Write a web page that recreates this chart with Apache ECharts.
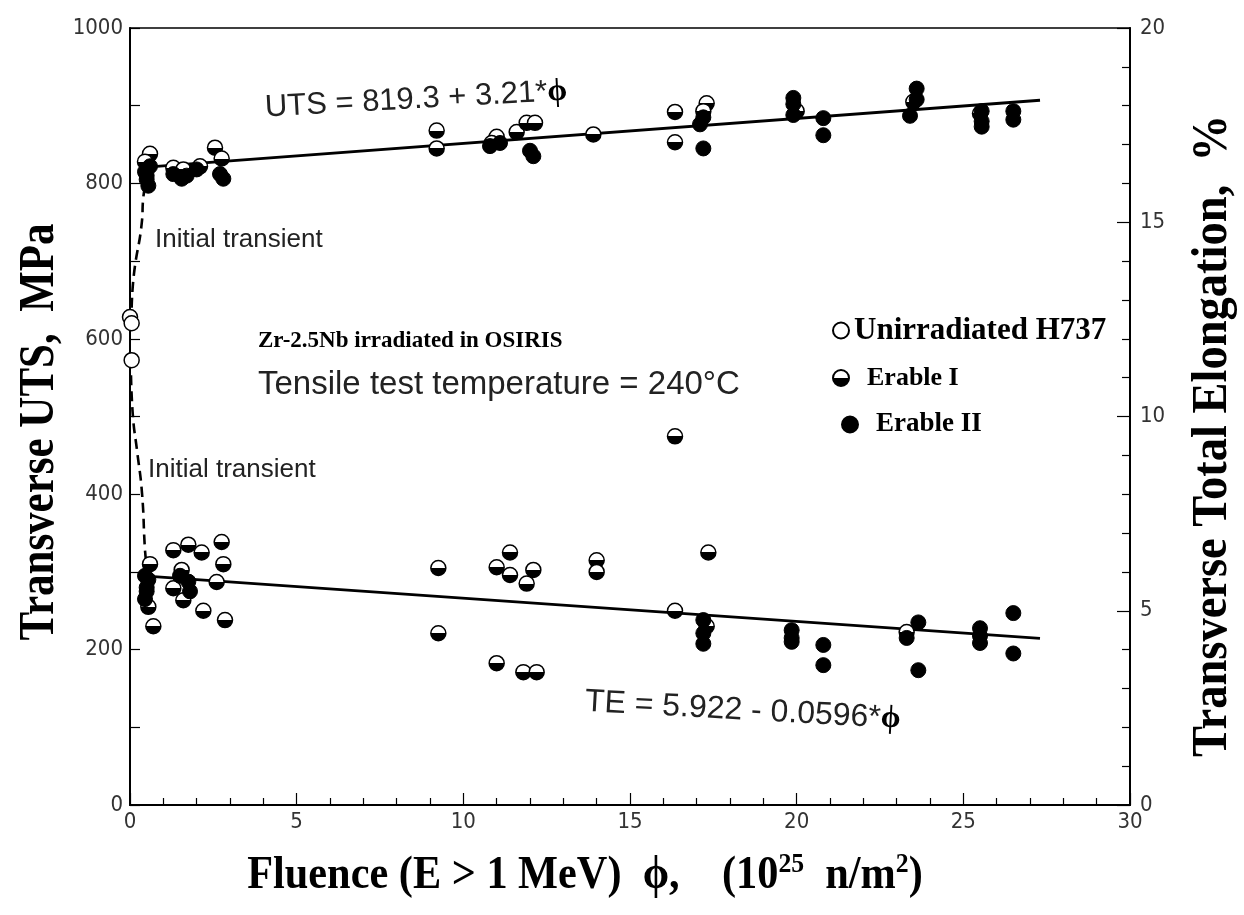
<!DOCTYPE html>
<html>
<head>
<meta charset="utf-8">
<script src="https://cdn.jsdelivr.net/npm/echarts@6/dist/echarts.min.js"></script>
<style>
html,body{margin:0;padding:0;background:#fff;}
#chart{width:1244px;height:915px;}
</style>
</head>
<body>
<div id="chart"></div>
<script>
// ---- data (fluence in 1e25 n/m^2) ----
const xTicks = [0, 5, 10, 15, 20, 25, 30];
const utsTicks = [0, 200, 400, 600, 800, 1000];
const teTicks = [0, 5, 10, 15, 20];

// Unirradiated H737
const utsUnirrX = [0.0, 0.05];
const utsUnirrY = [628, 620];
const teUnirrX = [0.05];
const teUnirrY = [11.45];

// Erable I (UTS, MPa)
const utsE1X = [0.6, 0.45, 1.3, 1.6, 2.1, 2.55, 2.75, 9.2, 9.2, 11.0, 10.85, 11.6, 11.9, 12.15, 13.9, 16.35, 16.35, 17.3, 17.2, 20.0, 23.5, 25.5];
const utsE1Y = [838, 828, 820, 818, 822, 846, 832, 868, 845, 860, 852, 866, 878, 878, 863, 892, 853, 903, 893, 893, 905, 890];

// Erable II (UTS, MPa)
const utsE2X = [0.45, 0.5, 0.55, 0.6, 0.5, 1.3, 1.55, 1.7, 2.0, 2.7, 2.8, 10.8, 11.1, 12.0, 12.1, 17.2, 17.1, 17.2, 19.9, 19.9, 19.9, 20.8, 20.8, 23.4, 23.6, 23.6, 25.55, 25.55, 25.55, 26.5, 26.5];
const utsE2Y = [815, 805, 797, 822, 810, 812, 806, 810, 818, 812, 806, 848, 852, 842, 835, 885, 876, 845, 910, 902, 888, 884, 862, 887, 922, 908, 893, 880, 873, 893, 882];

// Erable I (TE, %)
const teE1X = [0.6, 0.55, 0.7, 1.3, 1.75, 1.55, 1.3, 1.6, 2.2, 2.15, 2.6, 2.75, 2.8, 2.85, 9.25, 9.25, 11.0, 11.0, 11.4, 11.4, 11.9, 12.1, 11.8, 12.2, 14.0, 14.0, 16.35, 16.35, 17.35, 17.3, 23.3];
const teE1Y = [6.2, 5.1, 4.6, 6.56, 6.7, 6.05, 5.58, 5.27, 5.0, 6.5, 5.74, 6.77, 6.2, 4.76, 6.1, 4.42, 6.12, 3.65, 6.5, 5.92, 5.7, 6.05, 3.42, 3.42, 6.3, 6.0, 5.0, 9.49, 6.5, 4.6, 4.45];

// Erable II (TE, %)
const teE2X = [0.45, 0.5, 0.45, 0.5, 0.55, 1.75, 1.8, 1.5, 17.2, 17.2, 17.2, 19.85, 19.85, 19.85, 20.8, 20.8, 23.3, 23.65, 23.65, 25.5, 25.5, 25.5, 26.5, 26.5];
const teE2Y = [5.9, 5.6, 5.3, 5.5, 5.8, 5.75, 5.5, 5.9, 4.76, 4.42, 4.15, 4.5, 4.3, 4.2, 4.12, 3.6, 4.3, 4.7, 3.47, 4.55, 4.35, 4.17, 4.94, 3.9];

// fitted lines (end points)
const utsFitX = [0.5, 27.3];
const utsFitY = [820.9, 907.0];
const teFitX = [0.5, 27.3];
const teFitY = [5.89, 4.29];

// initial transient dashed curves
const utsTransX = [0.05, 0.12, 0.36, 0.39, 0.45];
const utsTransY = [640, 684, 752, 778, 797];
const teTransX = [0.03, 0.09, 0.21, 0.36, 0.45, 0.5];
const teTransY = [11.06, 9.98, 9.13, 8.03, 6.56, 6.17];

const zip = (xs, ys) => xs.map((x, i) => [x, ys[i]]);

const halfFill = {
  type: 'linear', x: 0, y: 0, x2: 0, y2: 1,
  colorStops: [
    {offset: 0, color: '#ffffff'}, {offset: 0.5, color: '#ffffff'},
    {offset: 0.5, color: '#000000'}, {offset: 1, color: '#000000'}
  ]
};
const SANS = '"Liberation Sans", Arial, sans-serif';
const NARROW = '"DejaVu Sans Condensed", "Liberation Sans Narrow", "Liberation Sans", sans-serif';
const SERIF = '"Liberation Serif", "Times New Roman", serif';
const SYM = 15;

const chart = echarts.init(document.getElementById('chart'), null, {renderer: 'canvas'});

function scatter(name, yIdx, data, style) {
  return {
    name: name, type: 'scatter', yAxisIndex: yIdx, data: data,
    symbol: 'circle', symbolSize: SYM,
    itemStyle: style, emphasis: {disabled: true}, z: 3
  };
}
const openStyle = {color: '#ffffff', borderColor: '#000', borderWidth: 1.5, opacity: 1};
const halfStyle = {color: halfFill, borderColor: '#000', borderWidth: 1.5, opacity: 1};
const fullStyle = {color: '#000000', borderColor: '#000', borderWidth: 1, opacity: 1};
const legendText = {fontFamily: SERIF, fontWeight: 'bold', fontSize: 26, color: '#000'};
const tickFont = {color: '#333', fontFamily: NARROW, fontSize: 22};

const option = {
  animation: false,
  backgroundColor: '#ffffff',
  grid: {left: 130, right: 114, top: 28, bottom: 110, show: true, borderColor: '#000', borderWidth: 1.5},
  xAxis: {
    type: 'value', min: 0, max: 30, interval: 5,
    axisLine: {show: true, onZero: false, lineStyle: {color: '#000', width: 2}},
    axisTick: {show: true, inside: true, length: 12, lineStyle: {color: '#000', width: 1.2}},
    minorTick: {show: true, splitNumber: 5, length: 7, lineStyle: {color: '#000', width: 1.2}},
    splitLine: {show: false},
    axisLabel: Object.assign({margin: 6, formatter: v => xTicks.includes(v) ? String(v) : ''}, tickFont)
  },
  yAxis: [
    {
      type: 'value', min: 0, max: 1000, interval: 200, position: 'left',
      axisLine: {show: true, lineStyle: {color: '#000', width: 2}},
      axisTick: {show: true, inside: true, length: 10, lineStyle: {color: '#000', width: 1.2}},
      minorTick: {show: true, splitNumber: 2, length: 10, lineStyle: {color: '#000', width: 1.2}},
      splitLine: {show: false},
      axisLabel: Object.assign({margin: 7, formatter: v => utsTicks.includes(v) ? String(v) : ''}, tickFont)
    },
    {
      type: 'value', min: 0, max: 20, interval: 5, position: 'right',
      axisLine: {show: true, lineStyle: {color: '#000', width: 2}},
      axisTick: {show: true, inside: true, length: 13, lineStyle: {color: '#000', width: 1.2}},
      minorTick: {show: true, splitNumber: 5, length: 8, lineStyle: {color: '#000', width: 1.2}},
      splitLine: {show: false},
      axisLabel: Object.assign({margin: 10, formatter: v => teTicks.includes(v) ? String(v) : ''}, tickFont)
    }
  ],
  legend: [
    {data: [{name: 'Unirradiated H737', icon: 'circle'}], left: 827, top: 310, itemWidth: 16, itemHeight: 16,
      textStyle: Object.assign({}, legendText, {fontSize: 31}), selectedMode: false},
    {data: [{name: 'Erable I', icon: 'circle'}], left: 827, top: 360, itemWidth: 16, itemHeight: 16,
      textStyle: Object.assign({}, legendText, {padding: [0, 0, 0, 13]}), selectedMode: false},
    {data: [{name: 'Erable II', icon: 'circle'}], left: 836, top: 406, itemWidth: 16, itemHeight: 16,
      textStyle: Object.assign({}, legendText, {fontSize: 27, padding: [0, 0, 0, 13]}), selectedMode: false}
  ],
  series: [
    {
      name: 'UTS fit', type: 'line', yAxisIndex: 0, data: zip(utsFitX, utsFitY),
      symbol: 'none', lineStyle: {color: '#000', width: 2.8}, z: 2, silent: true
    },
    {
      name: 'TE fit', type: 'line', yAxisIndex: 1, data: zip(teFitX, teFitY),
      symbol: 'none', lineStyle: {color: '#000', width: 2.8}, z: 2, silent: true
    },
    {
      name: 'UTS transient', type: 'line', yAxisIndex: 0, data: zip(utsTransX, utsTransY), smooth: true,
      symbol: 'none', lineStyle: {color: '#000', width: 2.6, type: [10, 6]}, z: 2, silent: true
    },
    {
      name: 'TE transient', type: 'line', yAxisIndex: 1, data: zip(teTransX, teTransY), smooth: true,
      symbol: 'none', lineStyle: {color: '#000', width: 2.6, type: [10, 6]}, z: 2, silent: true
    },
    scatter('Unirradiated H737', 0, zip(utsUnirrX, utsUnirrY), openStyle),
    scatter('Unirradiated H737', 1, zip(teUnirrX, teUnirrY), openStyle),
    scatter('Erable I', 0, zip(utsE1X, utsE1Y), halfStyle),
    scatter('Erable I', 1, zip(teE1X, teE1Y), halfStyle),
    scatter('Erable II', 0, zip(utsE2X, utsE2Y), fullStyle),
    scatter('Erable II', 1, zip(teE2X, teE2Y), fullStyle)
  ],
  graphic: [
    // axis titles
    {type: 'text', x: 40, y: 432, rotation: Math.PI / 2, scaleX: 0.86, silent: true,
      style: {text: 'Transverse UTS,  MPa', font: 'bold 50px ' + SERIF, fill: '#000', align: 'center', verticalAlign: 'middle'}},
    {type: 'text', x: 1213, y: 436, rotation: Math.PI / 2, scaleX: 0.93, silent: true,
      style: {text: 'Transverse Total Elongation,  %', font: 'bold 50px ' + SERIF, fill: '#000', align: 'center', verticalAlign: 'middle'}},
    {type: 'text', x: 585, y: 876, scaleX: 0.92, silent: true,
      style: {
        text: '{a|Fluence (E > 1 MeV)  ϕ,    (10}{s|25}{a|  n/m}{s|2}{a|)}',
        align: 'center', verticalAlign: 'middle',
        rich: {
          a: {font: 'bold 46px ' + SERIF, fill: '#000'},
          s: {font: 'bold 28px ' + SERIF, fill: '#000', padding: [0, 0, 22, 0]}
        }
      }},
    // equations and notes
    {type: 'text', x: 265, y: 108, rotation: 0.055, silent: true,
      style: {text: 'UTS = 819.3 + 3.21*{p|ϕ}', font: '31px ' + SANS, fill: '#222', verticalAlign: 'middle',
        rich: {p: {font: 'bold 32px ' + SERIF, fill: '#000'}}}},
    {type: 'text', x: 585, y: 702, rotation: -0.055, silent: true,
      style: {text: 'TE = 5.922 - 0.0596*{p|ϕ}', font: '32px ' + SANS, fill: '#222', verticalAlign: 'middle',
        rich: {p: {font: 'bold 32px ' + SERIF, fill: '#000'}}}},
    {type: 'text', x: 155, y: 240, silent: true,
      style: {text: 'Initial transient', font: '26px ' + SANS, fill: '#222', verticalAlign: 'middle'}},
    {type: 'text', x: 148, y: 470, silent: true,
      style: {text: 'Initial transient', font: '26px ' + SANS, fill: '#222', verticalAlign: 'middle'}},
    {type: 'text', x: 258, y: 341, silent: true,
      style: {text: 'Zr-2.5Nb irradiated in OSIRIS', font: 'bold 23px ' + SERIF, fill: '#000', verticalAlign: 'middle'}},
    {type: 'text', x: 258, y: 385, silent: true,
      style: {text: 'Tensile test temperature = 240°C', font: '33px ' + SANS, fill: '#222', verticalAlign: 'middle'}}
  ]
};
chart.setOption(option);
</script>
</body>
</html>
